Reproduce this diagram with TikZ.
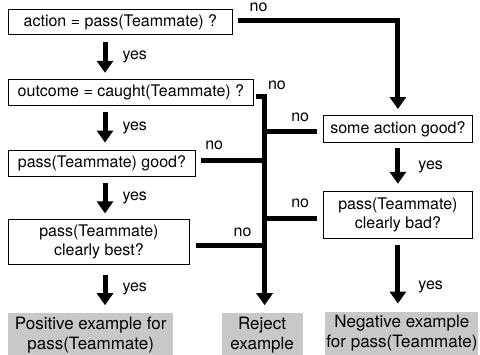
\documentclass[tikz,border=0pt]{standalone}
\usepackage{fontspec}
\setmainfont{TeX Gyre Heros}
\usetikzlibrary{arrows.meta, positioning}
\usepackage{xcolor}
\definecolor{resultgray}{RGB}{200,200,200}
\newcommand{\askfont}{\fontsize{16}{19}\selectfont}
\newcommand{\resfont}{\fontsize{17}{20}\selectfont}
\tikzset{
    askbox/.style={rectangle, draw=black, line width=0.8pt, inner sep=0pt,
        align=center, font=\askfont},
    resbox/.style={rectangle, fill=resultgray, inner sep=0pt,
        align=center, font=\resfont},
    flow/.style={line width=5pt, -{Triangle[length=12pt,width=16pt]}},
    branch/.style={line width=5pt},
    lbl/.style={font=\askfont, inner sep=0pt}
}

\begin{document}
\begin{tikzpicture}[x=1pt, y=-1pt]
    \useasboundingbox (0,0) rectangle (480,354);

    \node[askbox, minimum width=224pt, minimum height=25pt, anchor=north west] (act) at (8,9) {action = pass(Teammate) ?};
    \node[askbox, minimum width=245pt, minimum height=26pt, below=44pt of act.south west, anchor=north west] (caught) {outcome = caught(Teammate) ?};
    \node[askbox, minimum width=187pt, minimum height=26pt, below=44pt of caught.south west, anchor=north west] (good) {pass(Teammate) good?};
    \node[askbox, minimum width=181pt, minimum height=45pt, below=43pt of good.south west, anchor=north west] (best) {pass(Teammate)\\clearly best?};

    \node[askbox, minimum width=149pt, minimum height=27pt, anchor=north west] (some) at (323,115) {some action good?};
    \node[askbox, minimum width=149pt, minimum height=47pt, below=48pt of some] (bad) {pass(Teammate)\\clearly bad?};

    \node[resbox, minimum width=165pt, minimum height=43pt, below=48pt of best.south west, anchor=north west] (pos) {Positive example for\\pass(Teammate)};
    \node[resbox, minimum width=81pt, minimum height=43pt, right=48pt of pos] (rej) {Reject\\example};
    \node[resbox, minimum width=153pt, minimum height=43pt, below=73pt of bad, xshift=4pt] (neg) {Negative example\\for pass(Teammate)};

    \coordinate (spine) at ([xshift=2.5pt]rej.north);
    \coordinate (lane) at (105,0);

    % yes column on the left
    \draw[flow, shorten <=7pt, shorten >=6pt] (act.south -| lane) -- node[lbl, right=15pt] {yes} (caught.north -| lane);
    \draw[flow, shorten <=6pt, shorten >=7pt] (caught.south -| lane) -- node[lbl, right=15pt] {yes} (good.north -| lane);
    \draw[flow, shorten <=7pt, shorten >=6pt] (good.south -| lane) -- node[lbl, right=15pt] {yes} (best.north -| lane);
    \draw[flow, shorten <=10pt, shorten >=8pt] (best.south -| lane) -- node[lbl, right=15pt] {yes} (pos.north -| lane);

    % yes column on the right
    \draw[flow, shorten <=5pt, shorten >=7pt] (some.south) -- node[lbl, right=18pt] {yes} (bad.north);
    \draw[flow, shorten <=6pt, shorten >=8pt] (bad.south) -- node[lbl, pos=0.66, right=18pt] {yes} (bad.south |- neg.north);

    % no branches
    \draw[flow] ([xshift=5pt,yshift=1.5pt]act.east) -| node[lbl, pos=0.065, above=6.5pt] {no} ([yshift=6pt]some.north);
    \draw[flow] ([xshift=2pt,yshift=-4pt]caught.east) -| node[lbl, pos=0.5, above right=3.8pt and 1pt] {no} ([yshift=8pt]spine);
    \draw[branch] ([xshift=5pt,yshift=3pt]good.east) coordinate (g) -- node[lbl, pos=0.21, above=8pt] {no} (g -| spine);
    \draw[branch] ([xshift=6pt,yshift=-3.5pt]best.east) coordinate (b) -- node[lbl, pos=0.68, above=7pt] {no} (b -| spine);
    \draw[branch] ([xshift=-6pt,yshift=-2.5pt]some.west) coordinate (s) -- node[lbl, pos=0.32, above=7pt] {no} (s -| spine);
    \draw[branch] ([xshift=-6pt,yshift=-3.5pt]bad.west) coordinate (d) -- node[lbl, pos=0.32, above=8pt] {no} (d -| spine);

\end{tikzpicture}
\end{document}
